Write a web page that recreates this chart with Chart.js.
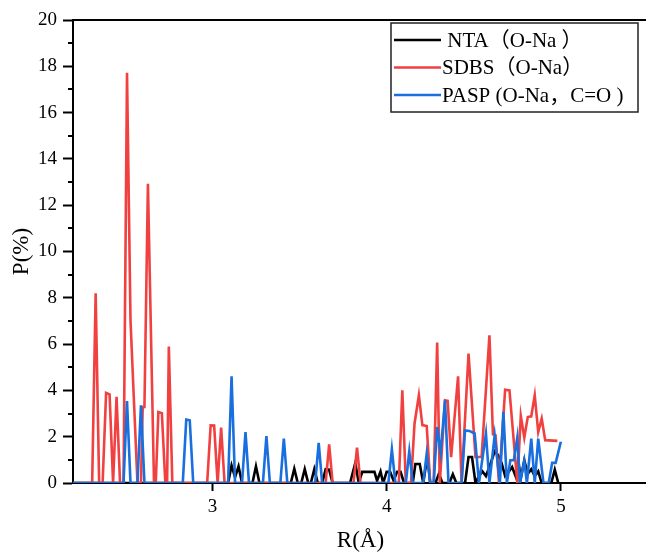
<!DOCTYPE html>
<html>
<head>
<meta charset="utf-8">
<script src="https://cdn.jsdelivr.net/npm/chart.js@4.4.1/dist/chart.umd.min.js"></script>
<style>
  html, body { margin: 0; padding: 0; background: #fff; overflow: hidden; }
  #wrap { width: 660px; height: 552px; }
</style>
</head>
<body>
<div id="wrap"><canvas id="chart" width="660" height="552"></canvas></div>
<script>
// R (Å), P (%) pairs
const ntaPoints = [
  [2.20,0],[3.09,0],[3.11,0.76],[3.13,0.25],[3.15,0.72],[3.17,0],[3.23,0],[3.25,0.72],[3.27,0],
  [3.45,0],[3.47,0.62],[3.49,0],[3.51,0],[3.53,0.6],[3.55,0],[3.565,0],[3.585,0.6],[3.605,0],
  [3.63,0],[3.65,0.6],[3.67,0.58],[3.69,0],[3.79,0],[3.82,0.86],[3.84,0],[3.86,0.48],[3.93,0.48],
  [3.945,0.1],[3.965,0.5],[3.98,0],[4.00,0.48],[4.02,0.48],[4.04,0.1],[4.06,0.48],[4.08,0.48],
  [4.10,0],[4.15,0],[4.165,0.82],[4.19,0.82],[4.21,0],[4.235,1.22],[4.25,0],[4.28,0],[4.30,0.4],
  [4.32,0],[4.36,0],[4.38,0.38],[4.40,0],[4.45,0],[4.47,1.12],[4.49,1.12],[4.51,0],[4.53,0.3],
  [4.55,0.5],[4.57,0.3],[4.59,0.7],[4.62,1.37],[4.64,1.2],[4.66,0.86],[4.68,0.3],[4.70,0.48],
  [4.72,0.69],[4.74,0.3],[4.755,0.98],[4.77,0.2],[4.79,0.98],[4.81,0.4],[4.83,0.6],[4.85,0.3],
  [4.87,0.5],[4.89,0],[4.945,0],[4.965,0.58],[4.985,0]
];
const sdbsPoints = [
  [2.20,0],[2.31,0],[2.33,8.2],[2.35,0],[2.37,0],[2.39,3.89],[2.41,3.83],[2.43,0],[2.45,3.72],
  [2.47,0],[2.49,0],[2.51,17.72],[2.53,7.03],[2.55,3.5],[2.57,0],[2.59,0],[2.60,3.28],[2.61,3.28],
  [2.63,12.93],[2.65,5.5],[2.665,0],[2.675,0],[2.69,3.07],[2.71,3.02],[2.73,0],[2.74,0],[2.75,5.9],
  [2.77,0],[2.97,0],[2.99,2.49],[3.01,2.48],[3.03,0],[3.05,2.39],[3.07,0],[3.65,0],[3.67,1.67],
  [3.69,0],[3.81,0],[3.83,1.53],[3.85,0],[4.07,0],[4.09,4.0],[4.11,0],[4.14,0],[4.16,2.56],
  [4.185,3.79],[4.205,2.5],[4.23,2.46],[4.25,0],[4.27,0],[4.29,6.07],[4.305,0],[4.335,3.57],
  [4.35,3.55],[4.37,1.12],[4.41,4.61],[4.43,0],[4.47,5.59],[4.51,1.12],[4.545,1.12],[4.59,6.38],
  [4.61,2.1],[4.625,2.06],[4.645,0],[4.68,4.03],[4.705,4.0],[4.75,0],[4.77,2.9],[4.79,1.96],
  [4.81,2.85],[4.83,2.88],[4.85,3.79],[4.87,2.2],[4.89,2.78],[4.91,1.85],[4.98,1.82]
];
const paspPoints = [
  [2.20,0],[2.49,0],[2.51,3.54],[2.53,0],[2.57,0],[2.59,3.36],[2.61,0],[2.83,0],[2.85,2.74],
  [2.87,2.71],[2.89,0],[3.09,0],[3.11,4.61],[3.13,0],[3.17,0],[3.19,2.2],[3.21,0],[3.29,0],
  [3.31,2.03],[3.33,0],[3.39,0],[3.41,1.92],[3.43,0],[3.59,0],[3.61,1.73],[3.63,0],[4.01,0],
  [4.03,1.45],[4.05,0],[4.11,0],[4.13,1.37],[4.15,0],[4.21,0],[4.23,1.27],[4.25,0],[4.27,0],
  [4.29,2.42],[4.31,1.3],[4.335,3.57],[4.355,0],[4.43,0],[4.45,2.27],[4.475,2.25],[4.505,2.14],
  [4.53,0],[4.57,2.13],[4.59,0],[4.62,2.06],[4.65,0],[4.67,3.07],[4.69,0],[4.71,0.98],[4.73,0.98],
  [4.75,1.97],[4.765,0],[4.79,0.96],[4.805,0],[4.83,1.92],[4.85,0],[4.87,1.92],[4.90,0],[4.93,0],
  [4.95,0.87],[4.97,0.87],[5.00,1.78]
];

const seriesLabels = [' NTA（O-Na ）', 'SDBS（O-Na）', 'PASP (O-Na，C=O )'];
const seriesColors = ['#000000', '#F14040', '#1A6FDF'];
const xTicks = [3, 4, 5];

const serif = '"Liberation Serif", "Times New Roman", serif';
const legendFont = '"Liberation Serif", "Noto Sans CJK SC", serif';

const toXY = pts => pts.map(p => ({x: p[0], y: p[1]}));

// frame, y minor ticks and the boxed legend inside the plot
const extras = {
  id: 'extras',
  afterDraw(chart) {
    const ctx = chart.ctx;
    const a = chart.chartArea;
    const ys = chart.scales.y;
    ctx.save();
    ctx.strokeStyle = '#000';
    ctx.lineWidth = 2;
    ctx.beginPath();
    ctx.moveTo(a.left, a.top);
    ctx.lineTo(a.right, a.top);
    ctx.lineTo(a.right, a.bottom);
    ctx.stroke();
    for (let v = 1; v < 20; v += 2) {
      const py = Math.round(ys.getPixelForValue(v));
      ctx.beginPath();
      ctx.moveTo(a.left - 5, py);
      ctx.lineTo(a.left, py);
      ctx.stroke();
    }
    // legend
    const bx = 391, by = 23, bw = 247, bh = 89;
    ctx.lineWidth = 1.5;
    ctx.strokeStyle = '#222';
    ctx.strokeRect(bx, by, bw, bh);
    ctx.font = '21px ' + legendFont;
    ctx.textBaseline = 'middle';
    ctx.textAlign = 'left';
    chart.data.datasets.forEach((ds, i) => {
      const ry = by + 17 + i * 27.5;
      ctx.strokeStyle = ds.borderColor;
      ctx.lineWidth = 2.5;
      ctx.beginPath();
      ctx.moveTo(bx + 3, ry);
      ctx.lineTo(bx + 50, ry);
      ctx.stroke();
      ctx.fillStyle = '#000';
      ctx.fillText(ds.label, bx + 51, ry + 1);
    });
    ctx.restore();
  }
};

new Chart(document.getElementById('chart'), {
  type: 'line',
  data: {
    datasets: [
      { label: seriesLabels[0], data: toXY(ntaPoints), borderColor: seriesColors[0], order: 3 },
      { label: seriesLabels[1], data: toXY(sdbsPoints), borderColor: seriesColors[1], order: 2 },
      { label: seriesLabels[2], data: toXY(paspPoints), borderColor: seriesColors[2], order: 1 }
    ]
  },
  options: {
    responsive: false,
    devicePixelRatio: 1,
    animation: false,
    layout: { padding: { left: 0, top: 20, right: 12, bottom: 0 } },
    elements: {
      line: { borderWidth: 2.6, tension: 0, fill: false },
      point: { radius: 0, hoverRadius: 0 }
    },
    plugins: {
      legend: { display: false },
      title: { display: false },
      tooltip: { enabled: false }
    },
    scales: {
      x: {
        type: 'linear',
        min: 2.2,
        max: 5.5,
        afterBuildTicks: s => { s.ticks = xTicks.map(v => ({value: v})); },
        afterFit: s => { s.height = 69; },
        grid: { drawOnChartArea: false, drawTicks: true, tickLength: 8, tickColor: '#000', tickWidth: 2 },
        border: { display: true, color: '#000', width: 2 },
        ticks: { color: '#000', padding: 5, maxRotation: 0, font: { family: serif, size: 19 } },
        title: { display: true, text: 'R(Å)', color: '#000', padding: { top: 0, bottom: 0 },
                 font: { family: serif, size: 23, lineHeight: 1 } }
      },
      y: {
        min: 0,
        max: 20,
        afterFit: s => { s.width = 73; },
        grid: { drawOnChartArea: false, drawTicks: true, tickLength: 10, tickColor: '#000', tickWidth: 2 },
        border: { display: true, color: '#000', width: 2 },
        ticks: { stepSize: 2, color: '#000', padding: 6, font: { family: serif, size: 19 } },
        title: { display: true, text: 'P(%)', color: '#000', padding: { top: 8, bottom: 0 },
                 font: { family: serif, size: 23 } }
      }
    }
  },
  plugins: [extras]
});
</script>
</body>
</html>
